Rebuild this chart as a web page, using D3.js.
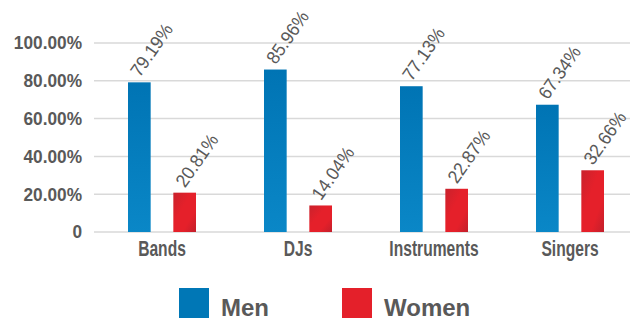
<!DOCTYPE html>
<html><head><meta charset="utf-8">
<script src="https://cdn.jsdelivr.net/npm/d3@7"></script>
<style>
html,body{margin:0;padding:0;background:#fff;overflow:hidden}
svg{display:block}
text{font-family:"Liberation Sans",Arial,sans-serif;fill:#595959}
</style></head>
<body><svg id="c" width="630" height="322"></svg>
<script>
const categories = ["Bands", "DJs", "Instruments", "Singers"];
const seriesNames = ["Men", "Women"];
const men = [79.19, 85.96, 77.13, 67.34];
const women = [20.81, 14.04, 22.87, 32.66];
const yTicks = [0, 20, 40, 60, 80, 100];
const yTickLabels = ["0", "20.00%", "40.00%", "60.00%", "80.00%", "100.00%"];

(function(){
const svg = d3.select("#c");
const defs = svg.append("defs");
const gB = defs.append("linearGradient").attr("id","gBlue").attr("x1",0).attr("y1",0).attr("x2",0).attr("y2",1);
gB.append("stop").attr("offset","0%").attr("stop-color","#0074b4");
gB.append("stop").attr("offset","100%").attr("stop-color","#0a87c7");
const gR = defs.append("linearGradient").attr("id","gRed").attr("x1",0).attr("y1",0).attr("x2",1).attr("y2",1);
gR.append("stop").attr("offset","0%").attr("stop-color","#c9222c");
gR.append("stop").attr("offset","40%").attr("stop-color","#e5202a");
gR.append("stop").attr("offset","70%").attr("stop-color","#e5202a");
gR.append("stop").attr("offset","100%").attr("stop-color","#c21f2b");

const pl = 94, pr = 638, pt = 43, pb = 232;
const x0 = d3.scaleBand().domain(categories).range([pl, pr]).paddingInner(0).paddingOuter(0);
const x1 = d3.scaleBand().domain(seriesNames).range([34, 136-34]).paddingInner(0.5).paddingOuter(0);
const y = d3.scaleLinear().domain([0, 100]).range([pb, pt]);

svg.append("g").selectAll("line").data(yTicks).join("line")
  .attr("x1", pl).attr("x2", 630)
  .attr("y1", d => y(d)).attr("y2", d => y(d))
  .attr("stroke", "#d9d9d9").attr("stroke-width", 1.5);

svg.append("g").selectAll("text").data(yTicks).join("text")
  .attr("transform", d => `translate(82,${y(d) + 6.3}) scale(0.96,1)`)
  .attr("text-anchor", "end").attr("font-weight", "bold").attr("font-size", 18)
  .text((d,i) => yTickLabels[i]);

const rows = [];
categories.forEach((c,i) => {
  rows.push({c, s:"Men", v:men[i]});
  rows.push({c, s:"Women", v:women[i]});
});
const bw = x1.bandwidth();
svg.append("g").selectAll("rect").data(rows).join("rect")
  .attr("x", d => x0(d.c) + x1(d.s))
  .attr("y", d => y(d.v))
  .attr("width", bw)
  .attr("height", d => y(0) - y(d.v))
  .attr("fill", d => d.s === "Men" ? "url(#gBlue)" : "url(#gRed)");

svg.append("g").selectAll("text").data(rows).join("text")
  .attr("transform", d => `translate(${x0(d.c) + x1(d.s) + bw/2 - 5},${y(d.v) - 8}) rotate(-55) scale(0.95,1)`)
  .attr("dy", "0.35em")
  .attr("font-size", 18.5)
  .text(d => d.v.toFixed(2) + "%");

svg.append("g").selectAll("text").data(categories).join("text")
  .attr("transform", d => `translate(${x0(d) + x0.bandwidth()/2},256) scale(0.71,1)`)
  .attr("text-anchor", "middle").attr("font-weight", "bold").attr("font-size", 22)
  .text(d => d);

const legX = [179, 342];
const lg = svg.append("g").selectAll("g").data(seriesNames).join("g")
  .attr("transform", (d,i) => `translate(${legX[i]},288)`);
lg.append("rect").attr("width", 30).attr("height", 30)
  .attr("fill", (d,i) => i === 0 ? "#0077b6" : "#e4202a");
lg.append("text").attr("x", 42).attr("y", 28).attr("font-size", 24).attr("font-weight", "bold")
  .text(d => d);
})();
</script></body></html>
